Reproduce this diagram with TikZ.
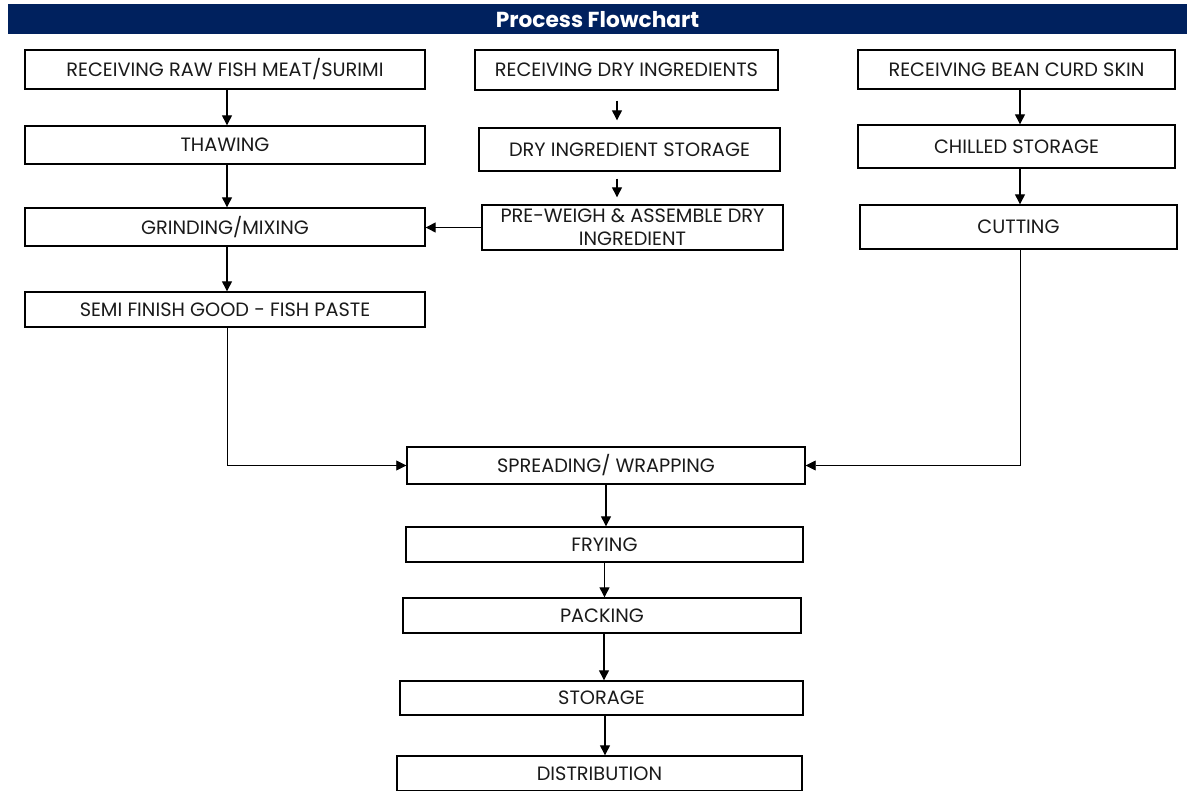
\documentclass[tikz,border=0pt]{standalone}
\usepackage{fontspec}
\setmainfont{Poppins}
\usetikzlibrary{arrows.meta}
\definecolor{navy}{HTML}{00215E}
\definecolor{ink}{HTML}{1A1A1A}
\begin{document}
\begin{tikzpicture}[x=1pt,y=-1pt,
  box/.style={draw=black,line width=1.4pt,fill=white,inner sep=0pt,align=center,text=ink,font=\fontsize{19.3}{23}\selectfont},
  arr/.style={line width=1.3pt,-{Triangle[length=10pt,width=10pt]}},
  title/.style={fill=navy,inner sep=0pt,text=white,font=\fontsize{21.7}{24}\selectfont\bfseries}]
\useasboundingbox (0,0) rectangle (1187,791);
\node[title,minimum width=1179,minimum height=30] (t) at (597.5,19.5) {Process Flowchart};
\node[box,minimum width=400,minimum height=39] (n1) at (225,69.5) {RECEIVING RAW FISH MEAT/SURIMI};
\node[box,minimum width=303,minimum height=40] (n2) at (626.5,70) {RECEIVING DRY INGREDIENTS};
\node[box,minimum width=317,minimum height=39] (n3) at (1016.5,69.5) {RECEIVING BEAN CURD SKIN};
\node[box,minimum width=400,minimum height=38] (n4) at (225,145) {THAWING};
\node[box,minimum width=301,minimum height=43] (n5) at (629.5,149.5) {DRY INGREDIENT STORAGE};
\node[box,minimum width=317,minimum height=43] (n6) at (1016.5,146.5) {CHILLED STORAGE};
\node[box,minimum width=400,minimum height=38] (n7) at (225,227) {GRINDING/MIXING};
\node[box,minimum width=301,minimum height=45] (n8) at (632.5,227.5) {PRE-WEIGH \& ASSEMBLE DRY\\INGREDIENT};
\node[box,minimum width=317,minimum height=44] (n9) at (1018.5,227) {CUTTING};
\node[box,minimum width=400,minimum height=35] (n10) at (225,309.5) {SEMI FINISH GOOD - FISH PASTE};
\node[box,minimum width=398,minimum height=37] (n11) at (606,465.5) {SPREADING/ WRAPPING};
\node[box,minimum width=397,minimum height=35] (n12) at (604.5,544.5) {FRYING};
\node[box,minimum width=398,minimum height=35] (n13) at (602,615.5) {PACKING};
\node[box,minimum width=403,minimum height=34] (n14) at (601.5,698) {STORAGE};
\node[box,minimum width=405,minimum height=35] (n15) at (599.5,773.5) {DISTRIBUTION};
\draw[arr] ([xshift=2]n1.south) -- ([xshift=2]n4.north);
\draw[arr] ([xshift=2]n4.south) -- ([xshift=2]n7.north);
\draw[arr] ([xshift=2]n7.south) -- ([xshift=2]n10.north);
\draw[arr,shorten <=10pt,shorten >=7pt] ([xshift=-9.5]n2.south) -- ([xshift=-12.5]n5.north);
\draw[arr,shorten <=7pt,shorten >=7pt] ([xshift=-12.5]n5.south) -- ([xshift=-15.5]n8.north);
\draw[arr] (n8.west) -- (n8.west -| n7.east);
\draw[arr] ([xshift=3.5]n3.south) -- ([xshift=3.5]n6.north);
\draw[arr] ([xshift=3.5]n6.south) -- ([xshift=1.5]n9.north);
\draw[arr,line width=0.8pt] ([xshift=2]n10.south) |- (n11.west);
\draw[arr,line width=0.8pt] ([xshift=1.5]n9.south) |- (n11.east);
\draw[arr] (n11.south) -- (n11.south |- n12.north);
\draw[arr] (n12.south) -- (n12.south |- n13.north);
\draw[arr] ([xshift=2]n13.south) -- ([xshift=2]n13.south |- n14.north);
\draw[arr] ([xshift=3.5]n14.south) -- ([xshift=3.5]n14.south |- n15.north);
\end{tikzpicture}
\end{document}
